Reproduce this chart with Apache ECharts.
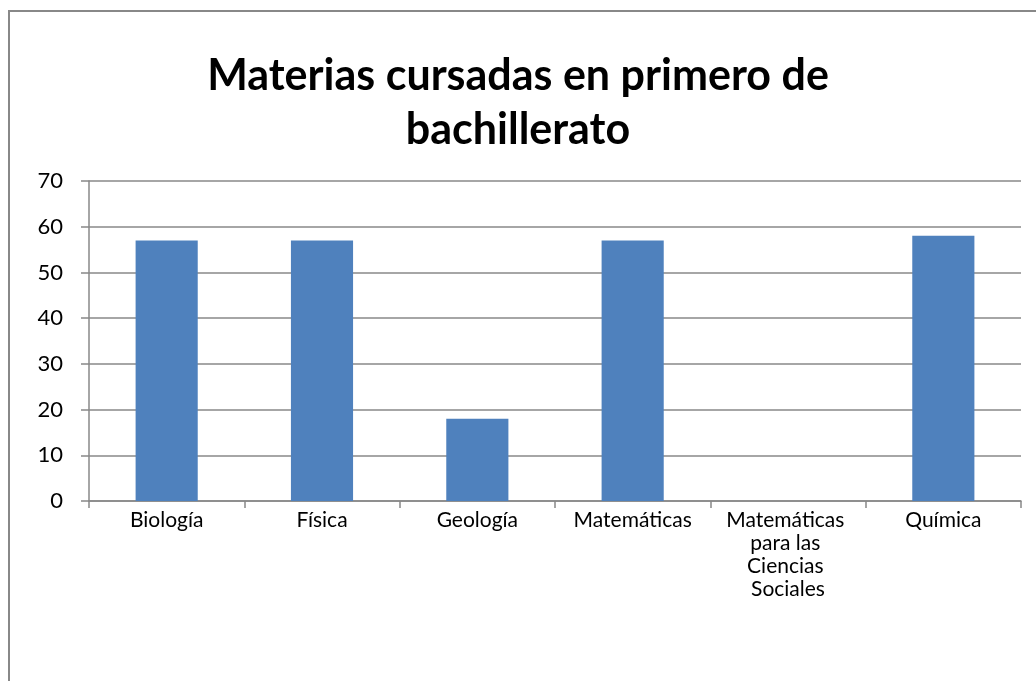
<!DOCTYPE html>
<html>
<head>
<meta charset="utf-8">
<script src="https://cdn.jsdelivr.net/npm/echarts@6/dist/echarts.min.js"></script>
<style>
  html, body { margin: 0; padding: 0; background: #fff; }
  #chart { width: 1036px; height: 681px; }
</style>
</head>
<body>
<div id="chart"></div>
<script>
// datos
const materias = ['Biología', 'Física', 'Geología', 'Matemáticas', 'Matemáticas para las Ciencias Sociales', 'Química'];
const alumnos = [57, 57, 18, 57, 0, 58];
const ejeY = { min: 0, max: 70, interval: 10 };

const myChart = echarts.init(document.getElementById('chart'));
const gris = '#888888';

const option = {
    backgroundColor: '#fff',
    title: {
        text: 'Materias cursadas en primero de\nbachillerato',
        left: 'center',
        top: 44,
        textStyle: {
            fontFamily: 'Lato',
            fontSize: 43,
            fontWeight: 'bold',
            lineHeight: 54,
            color: '#000'
        }
    },
    graphic: [{
        type: 'polyline',
        silent: true,
        shape: { points: [[9, 681], [9, 11], [1036, 11]] },
        style: { stroke: gris, lineWidth: 2, fill: null }
    }],
    grid: { left: 89, top: 181, width: 932, height: 320 },
    xAxis: {
        type: 'category',
        data: materias,
        axisLine: { lineStyle: { color: gris, width: 1.5 } },
        axisTick: { show: true, length: 7, inside: false, lineStyle: { color: gris, width: 1.5 } },
        axisLabel: {
            interval: 0,
            margin: 8,
            color: '#000',
            fontFamily: 'Lato',
            fontSize: 21,
            lineHeight: 23,
            width: 140,
            overflow: 'break'
        }
    },
    yAxis: {
        type: 'value',
        min: ejeY.min,
        max: ejeY.max,
        interval: ejeY.interval,
        axisLine: { show: true, lineStyle: { color: gris, width: 1.5 } },
        axisTick: { show: true, length: 8, lineStyle: { color: gris, width: 1.5 } },
        splitLine: { lineStyle: { color: gris, width: 1.5 } },
        axisLabel: {
            margin: 26,
            color: '#000',
            fontFamily: 'Lato',
            fontSize: 22
        }
    },
    series: [{
        type: 'bar',
        data: alumnos,
        barCategoryGap: '60%',
        itemStyle: { color: '#4F81BD' },
        emphasis: { disabled: true }
    }],
    animation: false
};
myChart.setOption(option);
</script>
</body>
</html>
